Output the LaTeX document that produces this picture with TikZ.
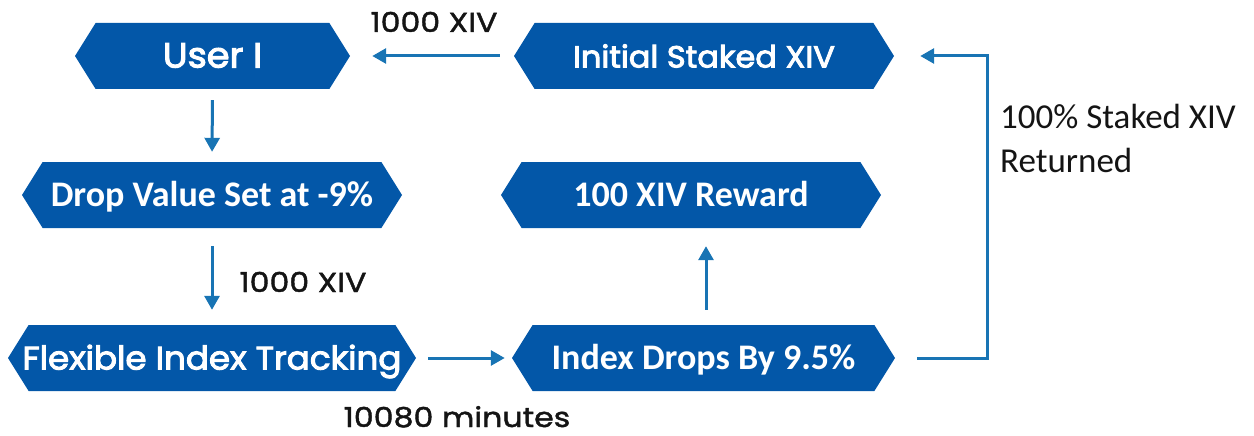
\documentclass[tikz,border=0pt]{standalone}
\usepackage{fontspec}
\setmainfont{Carlito}
\newfontfamily\popfont[FakeBold=3,FakeStretch=1.05]{Poppins}
\newfontfamily\poplight[FakeBold=1.5,FakeStretch=1.15]{Poppins}
\usetikzlibrary{shapes.symbols,arrows.meta}

\definecolor{boxblue}{HTML}{0357A8}
\definecolor{arrowblue}{HTML}{1874B4}
\definecolor{labelblack}{HTML}{141414}

\tikzset{
  stepbox/.style={signal, signal to=west and east, signal pointer angle=116,
    fill=boxblue, draw=none, text=white, minimum height=66pt,
    inner ysep=0pt, inner xsep=-12pt, text height=23pt, text depth=0pt},
  popbox/.style={stepbox, font=\popfont\fontsize{#1}{38}\selectfont},
  calbox/.style={stepbox, font=\bfseries\fontsize{36}{42}\selectfont},
  flow/.style={draw=arrowblue, line width=3pt, -{Triangle[length=14pt,width=15pt]}},
  poplabel/.style={text=labelblack, inner sep=0pt, anchor=base, font=\poplight\fontsize{27.5}{32}\selectfont},
}

\begin{document}
\begin{tikzpicture}[x=1pt,y=-1pt]
	\useasboundingbox (0,0) rectangle (1254,436);

	%% the steps
	\node[popbox=35, minimum width=275pt] (user) at (212.5,56) {User I};
	\node[popbox=30.5, minimum width=380pt] (initial) at (704,56) {Initial Staked XIV};
	\node[calbox, minimum width=380pt] (drop) at (212,195) {Drop Value Set at -9\%};
	\node[calbox, minimum width=380pt] (reward) at (691,195) {100 XIV Reward};
	\node[popbox=32.5, minimum width=408pt] (flex) at (212,358) {Flexible Index Tracking};
	\node[calbox, minimum width=383pt] (index) at (703.5,358) {Index Drops By 9.5\%};

	%% arrows
	\draw[flow, shorten <=14pt, shorten >=22pt] (initial.west) -- (user.east);
	\draw[flow, shorten <=11pt, shorten >=10pt] (user.south) -- (drop.north);
	\draw[flow, shorten <=18pt, shorten >=15pt] (drop.south) -- (flex.north);
	\draw[flow, shorten <=12pt, shorten >=7pt] (flex.east) -- (index.west);
	\draw[flow, shorten <=15pt, shorten >=18pt] ([xshift=2.5pt]index.north) -- ([xshift=2.5pt]index.north |- reward.south);

	% way back to the start
	\coordinate (back) at (987,358);
	\draw[flow, shorten <=22pt, shorten >=26pt] (index.east) -- (back) |- (initial.east);

	%% labels
	\node[poplabel] (lbltop) at (434,32) {1000 XIV};
	\node[poplabel] (lblmid) at (303,292) {1000 XIV};
	\node[poplabel] (lblmin) at (457,427) {10080 minutes};
	\node[text=labelblack, inner sep=0pt, anchor=base west, align=left,
	  font=\fontsize{35}{44}\selectfont] (lblret) at (1000,172) {100\% Staked XIV\\Returned};
\end{tikzpicture}
\end{document}
